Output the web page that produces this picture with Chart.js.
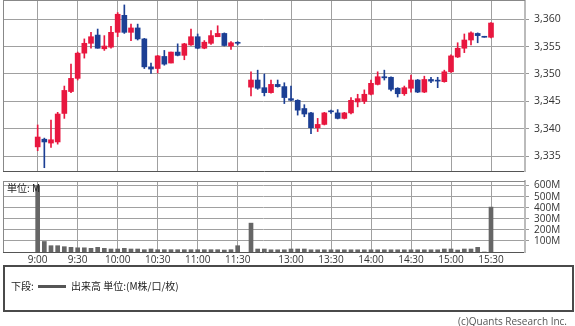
<!DOCTYPE html>
<html><head><meta charset="utf-8">
<script src="https://cdn.jsdelivr.net/npm/chart.js@4/dist/chart.umd.min.js"></script>
<style>
html,body{margin:0;padding:0;background:#fff;}
body{width:575px;height:326px;position:relative;overflow:hidden;font-family:"Noto Sans CJK JP","Open Sans",sans-serif;}
#c1{position:absolute;left:0;top:0;}
#c2{position:absolute;left:0;top:172px;}
.unit{position:absolute;left:7px;top:181px;font-size:10px;line-height:14px;color:#222;}
.legend{position:absolute;left:3px;top:265px;width:571px;height:47px;border:2px solid #4a4a4a;box-sizing:border-box;}
.lg1{position:absolute;left:11px;top:278px;font-size:10px;line-height:16px;color:#222;}
.lgline{position:absolute;left:38px;top:285px;width:28px;height:3px;background:#555;}
.lg2{position:absolute;left:71px;top:278px;font-size:10px;line-height:16px;color:#222;}
.copy{position:absolute;right:8px;top:313px;font-family:"Open Sans",sans-serif;font-size:10px;line-height:16px;color:#555;}
</style>
</head><body>
<canvas id="c1" width="575" height="172"></canvas>
<canvas id="c2" width="575" height="100"></canvas>
<div class="unit">単位: M</div>
<div class="legend"></div>
<div class="lg1">下段:</div>
<div class="lgline"></div>
<div class="lg2">出来高 単位:(M株/口/枚)</div>
<div class="copy">(c)Quants Research Inc.</div>
<script>
const times = ['9:00','9:05','9:10','9:15','9:20','9:25','9:30','9:35','9:40','9:45','9:50','9:55',
 '10:00','10:05','10:10','10:15','10:20','10:25','10:30','10:35','10:40','10:45','10:50','10:55',
 '11:00','11:05','11:10','11:15','11:20','11:25','11:30','',
 '12:30','12:35','12:40','12:45','12:50','12:55','13:00','13:05','13:10','13:15','13:20','13:25',
 '13:30','13:35','13:40','13:45','13:50','13:55','14:00','14:05','14:10','14:15','14:20','14:25',
 '14:30','14:35','14:40','14:45','14:50','14:55','15:00','15:05','15:10','15:15','15:20','15:25','15:30'];
const opens = [3336.7,3338.1,3337.4,3337.6,3342.8,3346.8,3349.2,3353.8,3355.6,3357.1,3354.6,3354.9,
 3357.6,3360.7,3357.6,3358.4,3356.4,3351.3,3351.0,3353.2,3352.0,3354.0,3353.4,3355.3,
 3356.8,3354.7,3355.6,3356.8,3357.4,3355.1,3355.6,null,
 3347.6,3348.9,3347.5,3346.6,3348.1,3347.7,3345.5,3345.2,3343.7,3342.9,3340.2,3340.8,
 3343.1,3342.9,3341.9,3342.9,3344.9,3345.0,3346.3,3348.1,3349.5,3349.4,3347.4,3346.4,
 3347.4,3348.9,3346.7,3349.0,3348.8,3348.6,3350.4,3353.1,3354.7,3356.2,3357.4,3356.7,3356.7];
const highs = [3340.7,3338.3,3341.6,3343.0,3347.8,3351.8,3354.0,3356.4,3357.6,3358.2,3357.0,3358.7,
 3361.2,3362.6,3359.1,3359.1,3356.5,3352.0,3353.4,3354.3,3354.0,3355.5,3355.6,3358.2,
 3357.3,3356.1,3357.9,3358.8,3357.5,3355.9,3355.9,null,
 3350.4,3350.7,3350.0,3348.9,3348.9,3348.4,3347.8,3345.3,3344.4,3343.0,3341.9,3343.0,
 3343.4,3343.5,3343.0,3345.7,3346.3,3347.1,3348.9,3350.4,3350.7,3349.5,3347.5,3347.8,
 3349.8,3349.0,3349.6,3349.4,3349.4,3350.7,3353.5,3355.7,3357.3,3357.7,3357.5,3356.7,3359.4];
const lows = [3336.0,3332.9,3336.6,3337.2,3341.9,3346.6,3348.9,3352.9,3354.7,3354.7,3354.3,3354.7,
 3356.8,3357.4,3356.1,3356.2,3351.0,3350.1,3350.2,3351.6,3352.0,3353.3,3352.6,3355.2,
 3354.6,3354.6,3355.4,3356.8,3355.1,3354.5,3355.3,null,
 3346.0,3347.2,3346.0,3346.5,3347.6,3344.6,3345.1,3342.5,3342.2,3339.1,3339.5,3340.7,
 3342.8,3341.8,3341.8,3342.7,3344.0,3344.6,3346.2,3348.0,3348.9,3346.9,3345.8,3346.1,
 3346.7,3346.6,3346.6,3348.4,3347.5,3348.5,3350.3,3353.0,3353.9,3355.3,3355.7,3356.7,3356.6];
const closes = [3338.5,3337.6,3338.0,3342.7,3347.0,3349.2,3353.8,3355.6,3356.8,3354.7,3355.1,3357.6,
 3360.9,3357.6,3358.4,3356.4,3351.3,3350.9,3353.3,3351.8,3354.0,3353.4,3355.5,3356.8,
 3354.7,3355.8,3357.0,3357.4,3355.2,3355.7,3355.6,null,
 3348.9,3347.4,3346.6,3348.1,3347.7,3345.7,3345.2,3343.4,3342.7,3340.2,3340.8,3342.9,
 3343.1,3341.9,3342.9,3345.2,3345.5,3346.3,3348.3,3349.5,3349.3,3347.2,3346.4,3347.5,
 3348.9,3346.7,3349.0,3348.7,3348.7,3350.4,3353.3,3354.7,3356.2,3357.5,3357.0,3356.7,3359.3];
const volumes = [600,95,57,57,48,42,38,38,33,42,33,27,
 27,33,27,27,21,27,21,21,21,21,21,21,
 21,21,21,21,18,21,57,null,
 261,27,27,20,20,20,27,27,27,20,20,20,
 20,20,20,20,20,20,20,20,20,20,20,20,
 20,20,20,20,20,27,27,18,27,27,42,0,406];
const tickLabels = ['9:00','9:30','10:00','10:30','11:00','11:30','13:00','13:30','14:00','14:30','15:00','15:30'];
const priceTicks = [3335,3340,3345,3350,3355,3360];
const volumeTicks = [100,200,300,400,500,600];

const UP = '#e8173f', DOWN = '#1c3f94';
const idx = times.map((t,i)=>i).filter(i => opens[i] !== null);
const candleColors = idx.map(i => closes[i] > opens[i] ? UP : DOWN);

const frame = {
  id:'frame',
  afterDraw(chart){
    const a = chart.chartArea, c = chart.ctx;
    c.save(); c.strokeStyle = '#888'; c.lineWidth = 1;
    c.beginPath(); c.moveTo(a.left+0.5, a.top); c.lineTo(a.left+0.5, a.bottom);
    c.moveTo(a.left, a.top+0.5); c.lineTo(a.right, a.top+0.5); c.stroke(); c.restore();
  }
};
const noPad = s => { s.paddingTop = 0; s.paddingBottom = 0; s.paddingLeft = 0; s.paddingRight = 0; };

const xCommon = (showLabels) => ({
  type:'linear', min:-5.2, max:73.1, offset:false,
  afterBuildTicks: s => { s.ticks = tickLabels.map(l => ({value: times.indexOf(l)})); },
  afterFit: s => { s.height = showLabels ? 20 : 1; noPad(s); },
  ticks: { display: showLabels, autoSkip:false, maxRotation:0, padding:2, color:'#333',
           font:{family:'Open Sans', size:10}, callback: v => times[v] },
  grid: { color:'#a0a0a0', drawTicks:false, offset:false },
  border: { color:'#555', width:1 }
});

new Chart(document.getElementById('c1'), {
  type:'bar',
  data:{ datasets:[
    { data: idx.map(i => ({x:i, y:[opens[i], closes[i]]})), backgroundColor: candleColors,
      barThickness:5, minBarLength:1, grouped:false, order:1 },
    { data: idx.map(i => ({x:i, y:[lows[i], highs[i]]})), backgroundColor: candleColors,
      barThickness:1, minBarLength:1, grouped:false, order:2 }
  ]},
  options:{
    responsive:false, devicePixelRatio:1, animation:false,
    layout:{ padding:{left:3, top:0, right:0, bottom:0} },
    plugins:{ legend:{display:false}, tooltip:{enabled:false} },
    events:[],
    scales:{
      x: xCommon(false),
      y: { position:'right', min:3332.3, max:3363.5,
        afterBuildTicks: s => { s.ticks = priceTicks.map(v => ({value:v})); },
        afterFit: s => { s.width = 50; noPad(s); },
        ticks:{ color:'#333', padding:5, autoSkip:false, font:{family:'Open Sans', size:10.5},
                callback: v => v.toLocaleString('en-US') },
        grid:{ color:'#a0a0a0', tickLength:4, tickColor:'#999' },
        border:{ color:'#bbb', width:2 } }
    }
  },
  plugins:[frame]
});

new Chart(document.getElementById('c2'), {
  type:'bar',
  data:{ datasets:[
    { data: idx.map(i => ({x:i, y:volumes[i]})), backgroundColor:'#666', barThickness:4, grouped:false }
  ]},
  options:{
    responsive:false, devicePixelRatio:1, animation:false,
    layout:{ padding:{left:3, top:9, right:0, bottom:0} },
    plugins:{ legend:{display:false}, tooltip:{enabled:false} },
    events:[],
    scales:{
      x: xCommon(true),
      y: { position:'right', min:0, max:642,
        afterBuildTicks: s => { s.ticks = volumeTicks.map(v => ({value:v})); },
        afterFit: s => { s.width = 50; noPad(s); },
        ticks:{ color:'#333', padding:5, autoSkip:false, font:{family:'Open Sans', size:10},
                callback: v => v + 'M' },
        grid:{ color:'#a0a0a0', tickLength:4, tickColor:'#999' },
        border:{ color:'#bbb', width:2 } }
    }
  },
  plugins:[frame]
});
</script>
</body></html>
